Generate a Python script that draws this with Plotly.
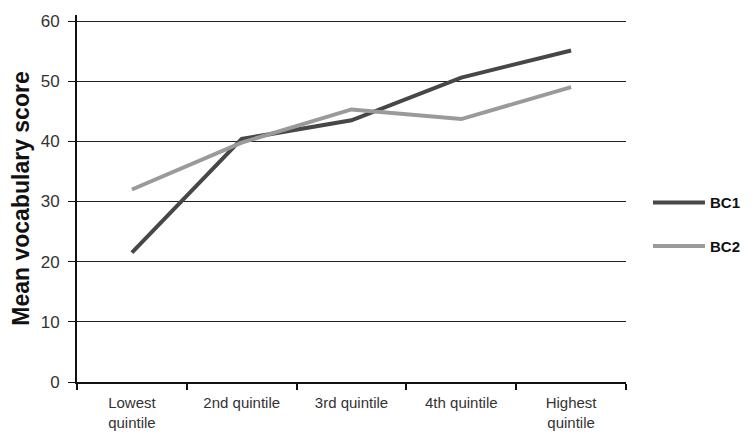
import plotly.graph_objects as go

categories = ["Lowest<br>quintile", "2nd quintile", "3rd quintile", "4th quintile", "Highest<br>quintile"]
bc1 = [21.5, 40.4, 43.5, 50.6, 55.1]
bc2 = [32.0, 39.8, 45.3, 43.7, 49.0]
y_ticks = [0, 10, 20, 30, 40, 50, 60]

fig = go.Figure()
fig.add_trace(go.Scatter(x=categories, y=bc1, mode="lines", name="<b>BC1</b>",
                         line=dict(color="#474747", width=4), legendgroup="a"))
fig.add_trace(go.Scatter(x=categories, y=bc2, mode="lines", name="<b>BC2</b>",
                         line=dict(color="#9a9a9a", width=4), legendgroup="b"))

fig.update_layout(
    width=746, height=428,
    margin=dict(l=69, r=128, t=7, b=54, autoexpand=False),
    paper_bgcolor="white", plot_bgcolor="white",
    font=dict(family="Liberation Sans, Arial, sans-serif", color="#333"),
    showlegend=True,
    legend=dict(x=1.04, y=0.43, xanchor="left", yanchor="middle",
                font=dict(size=15, color="#111", family="Liberation Sans, Arial, sans-serif"),
                traceorder="grouped", tracegroupgap=21, itemwidth=52),
    xaxis=dict(type="category", tickson="boundaries", ticks="outside", ticklen=6,
               tickwidth=2, tickcolor="#111", showline=True, linecolor="#111", linewidth=2,
               showgrid=False, tickfont=dict(size=15, color="#333"), ticklabelstandoff=6,
               range=[-0.5, 4.5], automargin=False),
    yaxis=dict(range=[0, 61], tickvals=y_ticks, ticks="outside", ticklen=7, tickwidth=1,
               tickcolor="#111", showline=True, linecolor="#111", linewidth=2,
               showgrid=True, gridcolor="#222", gridwidth=1, zeroline=False,
               tickfont=dict(size=17, color="#333"), ticklabelstandoff=5, automargin=False,
               title=dict(text="<b>Mean vocabulary score</b>", font=dict(size=23, color="#111"),
                          standoff=6)),
)
fig.write_html("out.html")
